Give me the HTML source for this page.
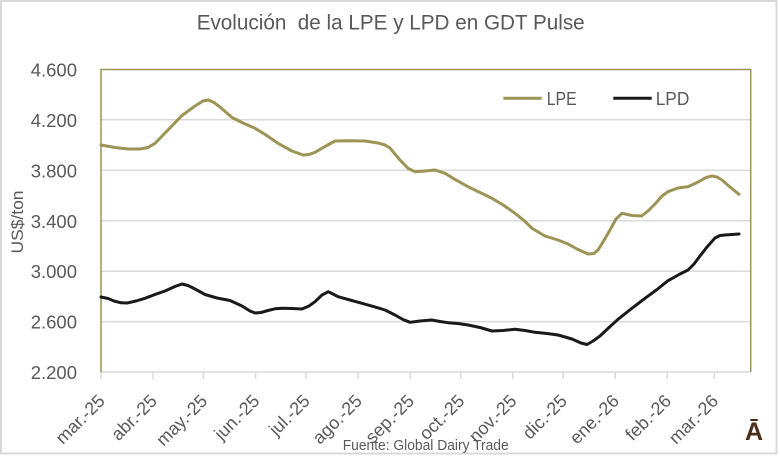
<!DOCTYPE html>
<html>
<head>
<meta charset="utf-8">
<style>
  html,body{margin:0;padding:0;background:#fff;}
  svg{display:block;}
  text{font-family:"Liberation Sans",sans-serif;}
</style>
</head>
<body>
<svg width="780" height="456" viewBox="0 0 780 456" xmlns="http://www.w3.org/2000/svg">
  <rect x="0" y="0" width="780" height="456" fill="#fff"/>
  <!-- outer chart border -->
  <rect x="1" y="1" width="775.5" height="452.5" fill="none" stroke="#d9d9d9" stroke-width="2"/>

  <!-- title -->
  <text x="196.7" y="29.5" font-size="21" fill="#595959" textLength="388" lengthAdjust="spacingAndGlyphs" xml:space="preserve">Evolución  de la LPE y LPD en GDT Pulse</text>

  <!-- gridlines -->
  <g stroke="#d9d9d9" stroke-width="1.5">
    <line x1="101" y1="119.8" x2="750.7" y2="119.8"/>
    <line x1="101" y1="170.3" x2="750.7" y2="170.3"/>
    <line x1="101" y1="220.8" x2="750.7" y2="220.8"/>
    <line x1="101" y1="271.2" x2="750.7" y2="271.2"/>
    <line x1="101" y1="321.6" x2="750.7" y2="321.6"/>
    <line x1="101" y1="372" x2="750.7" y2="372"/>
  </g>
  <!-- x ticks -->
  <g stroke="#d9d9d9" stroke-width="1.5">
    <line x1="101" y1="372" x2="101" y2="379"/>
    <line x1="153.1" y1="372" x2="153.1" y2="379"/>
    <line x1="203.5" y1="372" x2="203.5" y2="379"/>
    <line x1="255.6" y1="372" x2="255.6" y2="379"/>
    <line x1="306" y1="372" x2="306" y2="379"/>
    <line x1="358.1" y1="372" x2="358.1" y2="379"/>
    <line x1="410.2" y1="372" x2="410.2" y2="379"/>
    <line x1="460.6" y1="372" x2="460.6" y2="379"/>
    <line x1="512.7" y1="372" x2="512.7" y2="379"/>
    <line x1="563.1" y1="372" x2="563.1" y2="379"/>
    <line x1="615.2" y1="372" x2="615.2" y2="379"/>
    <line x1="667.3" y1="372" x2="667.3" y2="379"/>
    <line x1="714.3" y1="372" x2="714.3" y2="379"/>
  </g>
  <!-- plot border (olive) top/left/right -->
  <polyline points="101,372 101,69.5 750.7,69.5 750.7,372" fill="none" stroke="#9C9455" stroke-width="1.5"/>

  <!-- y labels -->
  <g font-size="18.5" fill="#595959" text-anchor="end">
    <text x="77" y="76.5">4.600</text>
    <text x="77" y="126.8">4.200</text>
    <text x="77" y="177.3">3.800</text>
    <text x="77" y="227.8">3.400</text>
    <text x="77" y="278.2">3.000</text>
    <text x="77" y="328.6">2.600</text>
    <text x="77" y="379">2.200</text>
  </g>
  <!-- y title -->
  <text transform="translate(23,222) rotate(-90)" font-size="17" fill="#595959" text-anchor="middle" textLength="63" lengthAdjust="spacingAndGlyphs">US$/ton</text>

  <!-- x labels -->
  <g font-size="18" fill="#595959" text-anchor="end">
    <text transform="translate(106,402) rotate(-45)">mar.-25</text>
    <text transform="translate(158.1,402) rotate(-45)">abr.-25</text>
    <text transform="translate(208.5,402) rotate(-45)">may.-25</text>
    <text transform="translate(260.6,402) rotate(-45)">jun.-25</text>
    <text transform="translate(311,402) rotate(-45)">jul.-25</text>
    <text transform="translate(363.1,402) rotate(-45)">ago.-25</text>
    <text transform="translate(415.2,402) rotate(-45)">sep.-25</text>
    <text transform="translate(465.6,402) rotate(-45)">oct.-25</text>
    <text transform="translate(517.7,402) rotate(-45)">nov.-25</text>
    <text transform="translate(568.1,402) rotate(-45)">dic.-25</text>
    <text transform="translate(620.2,402) rotate(-45)">ene.-26</text>
    <text transform="translate(672.3,402) rotate(-45)">feb.-26</text>
    <text transform="translate(719.3,402) rotate(-45)">mar.-26</text>
  </g>

  <!-- source -->
  <text x="342.7" y="450" font-size="15" fill="#595959" textLength="166" lengthAdjust="spacingAndGlyphs">Fuente: Global Dairy Trade</text>

  <!-- legend -->
  <line x1="503.3" y1="98.3" x2="541.7" y2="98.3" stroke="#9C9455" stroke-width="3"/>
  <text x="546.7" y="105" font-size="18" fill="#595959" textLength="30" lengthAdjust="spacingAndGlyphs">LPE</text>
  <line x1="613.3" y1="98.3" x2="651.7" y2="98.3" stroke="#1a1a1a" stroke-width="3"/>
  <text x="655.7" y="105" font-size="18" fill="#595959" textLength="33.6" lengthAdjust="spacingAndGlyphs">LPD</text>

  <!-- LPE series -->
  <polyline fill="none" stroke="#9C9455" stroke-width="3" stroke-linejoin="round" stroke-linecap="round"
    points="101,145 115,147.5 128,149 140,149 148,147.5 155,143.3 168,130 181.7,115.7 195,106 203,101 208.3,100 214,102.5 220,107 232,117.5 243,123 255,128.3 266,135 278,143.3 292,151 303,155 309,154.5 315,152.3 325,146.5 335,141 350,140.7 365,141 378,143 385,145 390,148 393,151.7 400,160 408,168.3 415,171.7 425,171 435,170 445,173.3 456,180 468,186.7 480,192.5 492,198.3 504,205.5 515,213.3 524,220.5 532,228.3 545,236 558,240 568,244 577,249 588,254 594,253.5 598,250 603,242 610,230 616,219 622,213.3 632,215.5 641.7,216 648,211 655,204 662,196 668,191.7 678,188 688,186.7 695,183.5 700,181 706,177.5 712,176 717,177 722,180 730,187 739,194.3"/>

  <!-- LPD series -->
  <polyline fill="none" stroke="#1a1a1a" stroke-width="3" stroke-linejoin="round" stroke-linecap="round"
    points="101,297 108,298.5 114,301 121,302.8 127,303 136,301 145,298.3 155,294.5 165,291 175,286.5 182,284 188,285.5 195,289 205,294.5 217,298 230,300.5 242,306 250,311 255,313 261,312.5 268,310.5 275,308.8 282,308.3 292,308.5 302,309 309,306 315,301.7 322,295 328.3,291.7 333,294 338,296.7 350,300 362,303.3 374,306.7 385,310 395,315 403,319.5 410,322.3 420,321 431.7,320 440,321.5 448,322.7 458,323.5 468,325 480,327.5 492,331 503,330.5 515,329.3 525,330.5 535,332.3 547,333.5 558,335 572,339 581,343 587,344.5 593,341 600,336 609,327.5 618,319.3 631,309 645,298.3 657,289.5 668,280.7 680,274 688,270 694,264 700,256 707,247 715,238 720,235.5 725,235 732,234.5 739,234"/>

  <!-- logo -->
  <text x="745" y="440" font-size="25" font-weight="bold" fill="#4B2E1A">Ā</text>
</svg>
</body>
</html>
